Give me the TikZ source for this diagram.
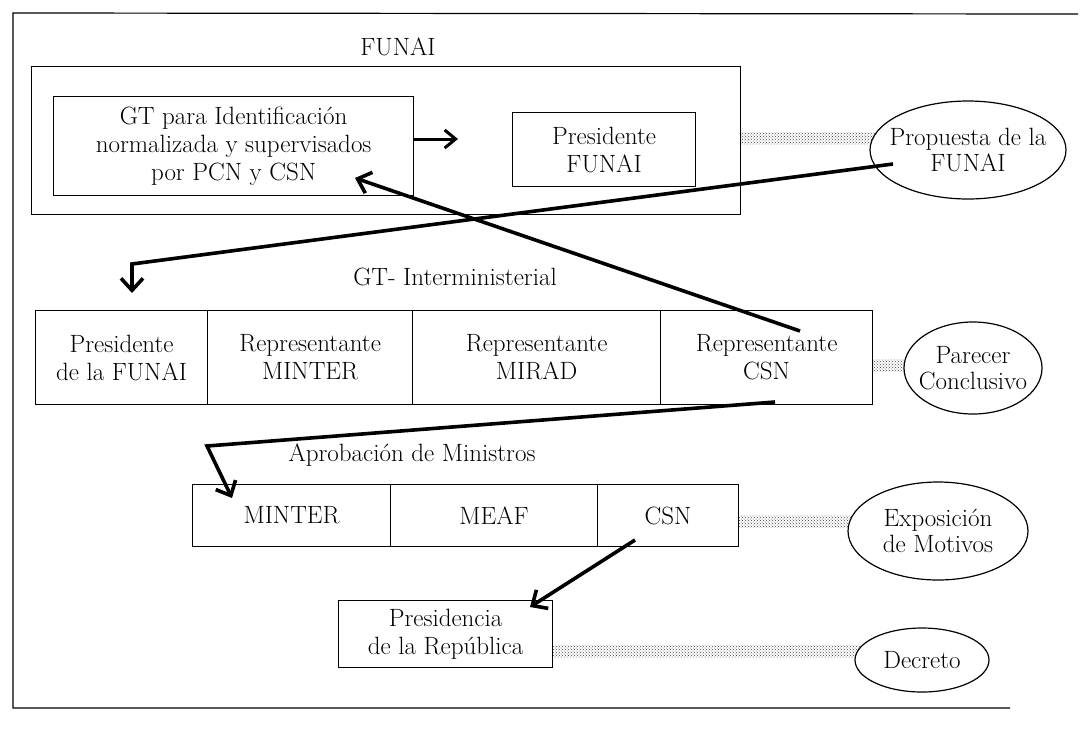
\documentclass[tikz,border=0pt]{standalone}
\usepackage{fontspec}
\usetikzlibrary{arrows.meta,shapes.geometric,patterns}
\begin{document}
\begin{tikzpicture}[x=1pt,y=-1pt,
  txt/.style={font=\fontsize{25}{28}\selectfont, align=center, inner sep=0pt},
  elltxt/.style={font=\fontsize{25}{26}\selectfont, align=center, inner sep=0pt},
  boxn/.style={draw, line width=1.2pt, anchor=north west, inner sep=0pt, txt},
  ellline/.style={draw, line width=1.2pt, fill=white},
  arr/.style={line width=3.6pt, line join=miter, -{Straight Barb[length=12pt,width=22pt]}},
  band/.style={pattern=crosshatch dots, pattern color=black!75}
]
\useasboundingbox (0,0) rectangle (1089,732);
% outer frame (open on the right)
\draw[line width=1.2pt] (1078,14) -- (13,13) -- (13,708) -- (1010,708);

% FUNAI block
\node[txt] (funailbl) at (398,47) {FUNAI};
\node[boxn, minimum width=709pt, minimum height=148pt] (funaibox) at (31,66) {};
\node[boxn, minimum width=360pt, minimum height=99pt] (gt) at (53,96)
  {GT para Identificación\\normalizada y supervisados\\por PCN y CSN};
\node[boxn, minimum width=183pt, minimum height=74pt] (pf) at (512,112)
  {Presidente\\FUNAI};

% GT interministerial
\node[txt] (gtilbl) at (455,277) {GT- Interministerial};
\node[boxn, minimum width=172pt, minimum height=94pt] (c1) at (35,310) {Presidente\\de la FUNAI};
\node[boxn, minimum width=205pt, minimum height=94pt] (c2) at (207,310) {Representante\\MINTER};
\node[boxn, minimum width=248pt, minimum height=94pt] (c3) at (412,310) {Representante\\MIRAD};
\node[boxn, minimum width=212pt, minimum height=94pt] (c4) at (660,310) {Representante\\CSN};

% Aprobacion de ministros
\node[txt] (aplbl) at (412,455) {Aprobación de Ministros};
\node[boxn, minimum width=198pt, minimum height=62pt] (m1) at (192,484) {MINTER};
\node[boxn, minimum width=207pt, minimum height=62pt] (m2) at (390,484) {MEAF};
\node[boxn, minimum width=141pt, minimum height=62pt] (m3) at (597,484) {CSN};

% Presidencia
\node[boxn, minimum width=214pt, minimum height=67pt] (pr) at (338,600) {Presidencia\\de la República};

% bands
\fill[band] (funaibox.east |- 0,132) rectangle (968,144);
\fill[band] (c4.east |- 0,359) rectangle (973,371);
\fill[band] (m3.east |- 0,515) rectangle (938,527);
\fill[band] (pr.east |- 0,645) rectangle (922,657);

% ellipses (outline) and their texts
\path[ellline] (968,150) ellipse [x radius=98pt, y radius=49pt];
\path[ellline] (973,368) ellipse [x radius=69pt, y radius=46pt];
\path[ellline] (938,531) ellipse [x radius=90pt, y radius=49pt];
\path[ellline] (922,660) ellipse [x radius=67pt, y radius=32pt];
\node[elltxt] (prop) at (968,150) {Propuesta de la\\FUNAI};
\node[elltxt] (par) at (973,368) {Parecer\\Conclusivo};
\node[elltxt] (expo) at (938,531) {Exposición\\de Motivos};
\node[elltxt] (dec) at (922,660) {Decreto};

% arrow start / corner points
\coordinate (ps) at (893,164);
\coordinate (pc) at (132,264);
\coordinate (pt) at (132,293);
\coordinate (cs) at (800,331);
\coordinate (ct) at (355,178);
\coordinate (ms) at (775,402);
\coordinate (mc) at (207,446);
\coordinate (mt) at (232,498);
\coordinate (ns) at (635,540);
\coordinate (nt) at (530,607);

% connectors
\draw[line width=3pt, -{Straight Barb[length=11pt,width=18pt]}] (gt.east |- 0,139) -- (458,139);
\draw[arr] (ps) -- (pc) -- (pt);
\draw[arr] (cs) -- (ct);
\draw[arr] (ms) -- (mc) -- (mt);
\draw[arr] (ns) -- (nt);
\end{tikzpicture}
\end{document}
